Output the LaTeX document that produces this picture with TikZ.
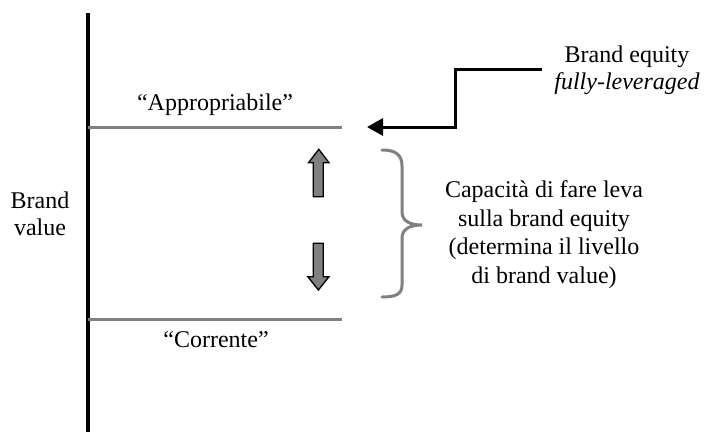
\documentclass[tikz,border=0pt]{standalone}
\usepackage{fontspec}
\setmainfont{Liberation Serif}
\usetikzlibrary{arrows.meta}
\definecolor{levelgray}{HTML}{808080}
\begin{document}
\begin{tikzpicture}[x=1pt,y=-1pt,
  txt/.style={inner sep=0pt,anchor=base,align=center,font=\fontsize{24}{27}\selectfont},
  widetxt/.style={txt,font=\fontsize{24}{28.5}\selectfont},
  axisline/.style={line width=3.5pt,black},
  levelline/.style={line width=3pt,levelgray},
  bracegray/.style={line width=3pt,levelgray,line cap=round},
  blockarrow/.style={fill=levelgray,draw=black,line width=1.3pt,line join=miter},
  pointer/.style={line width=3pt,black,-{Triangle[length=16pt,width=17pt]}}]
\useasboundingbox (0,0) rectangle (708,432);

% vertical axis and the two brand value levels
\coordinate (axtop) at (88,13);
\coordinate (axbot) at (88,432);
\draw[axisline] (axtop) -- (axbot);
\coordinate (hiL) at (88,127);
\coordinate (hiR) at (342,127);
\coordinate (loL) at (88,319);
\coordinate (loR) at (342,319);
\draw[levelline] (hiL) -- (hiR);
\draw[levelline] (loL) -- (loR);

% labels (base anchor sits on the last line of each label)
\node[txt] (bv) at (40,235) {Brand\\value};
\node[txt] (appr) at (215,110) {“Appropriabile”};
\node[txt] (corr) at (216,347) {“Corrente”};
\node[txt] (be) at (627,89) {Brand equity\\\textit{fully-leveraged}};
\node[widetxt] (cap) at (544,283) {Capacità di fare leva\\sulla brand equity\\(determina il livello\\di brand value)};

% stepped pointer towards the upper level
\coordinate (pstart) at (542,69);
\coordinate (pend) at (367,127);
\draw[pointer] (pstart) -- (455,69) |- (pend);

% block arrows up and down
\draw[blockarrow] (313.3,196.7) -- (313.3,162.7) -- (308.5,162.7) -- (318.8,149.3)
  -- (329,162.7) -- (323.3,162.7) -- (323.3,196.7) -- cycle;
\draw[blockarrow] (313.3,243.3) -- (313.3,276.7) -- (307.8,276.7) -- (318.4,290)
  -- (329,276.7) -- (323.3,276.7) -- (323.3,243.3) -- cycle;

% curly brace
\draw[bracegray] (382,150) .. controls (396,150) and (402,155) .. (402,166)
  -- (402,212) .. controls (402,221) and (410,225) .. (422,225)
  .. controls (410,225) and (402,229) .. (402,238)
  -- (402,285) .. controls (402,294) and (396,297) .. (382,297);
\end{tikzpicture}
\end{document}
